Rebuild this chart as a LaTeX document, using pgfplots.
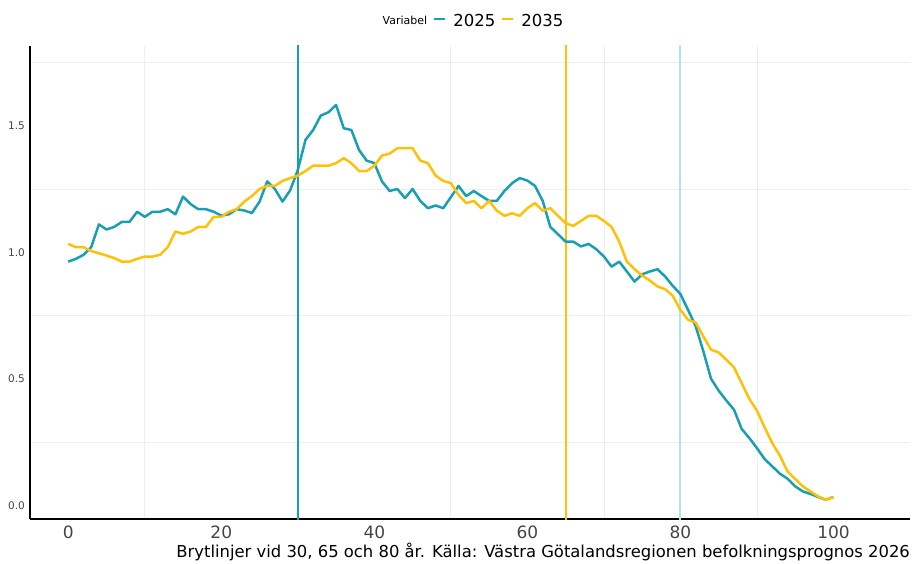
\documentclass[border=0pt]{standalone}
\usepackage{pgfplots}
\pgfplotsset{compat=1.18}
\usepackage{fontspec}
\setmainfont{DejaVu Sans}
\definecolor{teal25}{RGB}{26,158,178}
\definecolor{yel35}{RGB}{255,193,7}
\definecolor{lblue}{RGB}{178,228,238}
\definecolor{gridc}{RGB}{238,238,238}
\definecolor{tickc}{RGB}{68,68,68}
\begin{document}
\begin{tikzpicture}[x=1pt,y=1pt]
\useasboundingbox (0,0) rectangle (913,563);
\begin{axis}[
  at={(30pt,44pt)}, anchor=south west,
  scale only axis, width=880pt, height=473pt,
  xmin=-5, xmax=110, ymin=-0.054, ymax=1.815,
  axis x line*=bottom, axis y line*=left,
  axis line style={black, line width=1.3pt, -},
  /pgf/number format/assume math mode=true,
  xtick={0,20,40,60,80,100},
  ytick={0,0.5,1,1.5},
  yticklabels={0.0,0.5,1.0,1.5},
  minor xtick={10,30,50,70,90},
  minor ytick={0.25,0.75,1.25,1.75},
  minor grid style={gridc, line width=0.8pt},
  xminorgrids, yminorgrids,
  major tick length=0pt, minor tick length=0pt,
  xticklabel style={font=\fontsize{17}{17}\selectfont, text=tickc, inner sep=0pt, yshift=-6.5pt},
  yticklabel style={font=\fontsize{10.5}{10.5}\selectfont, text=tickc, inner sep=0pt, xshift=-5pt},
  clip=true,
  legend columns=-1,
  legend style={at={(axis description cs:0.5,1.057)}, anchor=center, draw=none, fill=none,
    font=\fontsize{16.5}{16.5}\selectfont, inner sep=0pt,
    /tikz/every even column/.append style={column sep=5pt},
    /tikz/every odd column/.append style={column sep=6pt}},
  legend image code/.code={%
    \path[use as bounding box, draw=none, fill=none] (0pt,-3pt) rectangle (11pt,13pt);
    \draw[#1, line width=2.5pt] (0pt,2pt) -- (11pt,2pt);},
]
\addlegendimage{empty legend}
\addlegendentry[font=\fontsize{11}{11}\selectfont]{Variabel}
\addlegendimage{teal25}
\addlegendentry{2025}
\addlegendimage{yel35}
\addlegendentry{2035}
% break lines
\addplot[teal25, line width=2pt, forget plot] coordinates {(30,-0.1) (30,1.9)};
\addplot[yel35, line width=2pt, forget plot] coordinates {(65,-0.1) (65,1.9)};
\addplot[lblue, line width=2pt, forget plot] coordinates {(80,-0.1) (80,1.9)};
% 2025
\addplot[teal25, line width=2.5pt, line join=round, forget plot] coordinates {
(0,0.963) (1,0.974) (2,0.99) (3,1.02) (4,1.11) (5,1.09) (6,1.10) (7,1.12) (8,1.12) (9,1.16)
(10,1.14) (11,1.16) (12,1.16) (13,1.17) (14,1.15) (15,1.22) (16,1.19) (17,1.17) (18,1.17) (19,1.16)
(20,1.145) (21,1.15) (22,1.17) (23,1.165) (24,1.155) (25,1.20) (26,1.28) (27,1.25) (28,1.20) (29,1.245)
(30,1.325) (31,1.444) (32,1.483) (33,1.54) (34,1.553) (35,1.582) (36,1.49) (37,1.483) (38,1.404) (39,1.362)
(40,1.352) (41,1.28) (42,1.242) (43,1.25) (44,1.214) (45,1.25) (46,1.203) (47,1.174) (48,1.185) (49,1.174)
(50,1.218) (51,1.262) (52,1.222) (53,1.242) (54,1.222) (55,1.203) (56,1.203) (57,1.242) (58,1.273) (59,1.293)
(60,1.283) (61,1.262) (62,1.203) (63,1.10) (64,1.071) (65,1.042) (66,1.042) (67,1.023) (68,1.033) (69,1.012)
(70,0.983) (71,0.943) (72,0.963) (73,0.924) (74,0.884) (75,0.913) (76,0.924) (77,0.933) (78,0.904) (79,0.867)
(80,0.835) (81,0.772) (82,0.707) (83,0.608) (84,0.50) (85,0.453) (86,0.414) (87,0.378) (88,0.302) (89,0.266)
(90,0.226) (91,0.183) (92,0.154) (93,0.125) (94,0.105) (95,0.075) (96,0.055) (97,0.045) (98,0.033) (99,0.022)
(100,0.033)};
% 2035
\addplot[yel35, line width=2.5pt, line join=round, forget plot] coordinates {
(0,1.033) (1,1.02) (2,1.02) (3,1.005) (4,0.996) (5,0.987) (6,0.977) (7,0.963) (8,0.963) (9,0.974)
(10,0.983) (11,0.983) (12,0.99) (13,1.02) (14,1.082) (15,1.073) (16,1.082) (17,1.10) (18,1.10) (19,1.14)
(20,1.14) (21,1.16) (22,1.17) (23,1.20) (24,1.222) (25,1.25) (26,1.262) (27,1.262) (28,1.282) (29,1.293)
(30,1.303) (31,1.321) (32,1.342) (33,1.342) (34,1.342) (35,1.352) (36,1.372) (37,1.352) (38,1.321) (39,1.321)
(40,1.342) (41,1.382) (42,1.39) (43,1.411) (44,1.411) (45,1.411) (46,1.362) (47,1.352) (48,1.303) (49,1.282)
(50,1.273) (51,1.227) (52,1.194) (53,1.203) (54,1.174) (55,1.203) (56,1.164) (57,1.144) (58,1.154) (59,1.144)
(60,1.174) (61,1.194) (62,1.164) (63,1.174) (64,1.144) (65,1.115) (66,1.104) (67,1.124) (68,1.144) (69,1.144)
(70,1.124) (71,1.10) (72,1.042) (73,0.963) (74,0.933) (75,0.908) (76,0.888) (77,0.865) (78,0.854) (79,0.828)
(80,0.772) (81,0.733) (82,0.722) (83,0.667) (84,0.615) (85,0.604) (86,0.575) (87,0.545) (88,0.483) (89,0.421)
(90,0.374) (91,0.308) (92,0.246) (93,0.196) (94,0.134) (95,0.104) (96,0.075) (97,0.055) (98,0.035) (99,0.022)
(100,0.033)};
\end{axis}
\node[anchor=base east, inner sep=0pt, font=\fontsize{16.4}{16.4}\selectfont] at (910,5.5)
  {Brytlinjer vid 30, 65 och 80 år. Källa: Västra Götalandsregionen befolkningsprognos 2026};
\end{tikzpicture}
\end{document}
